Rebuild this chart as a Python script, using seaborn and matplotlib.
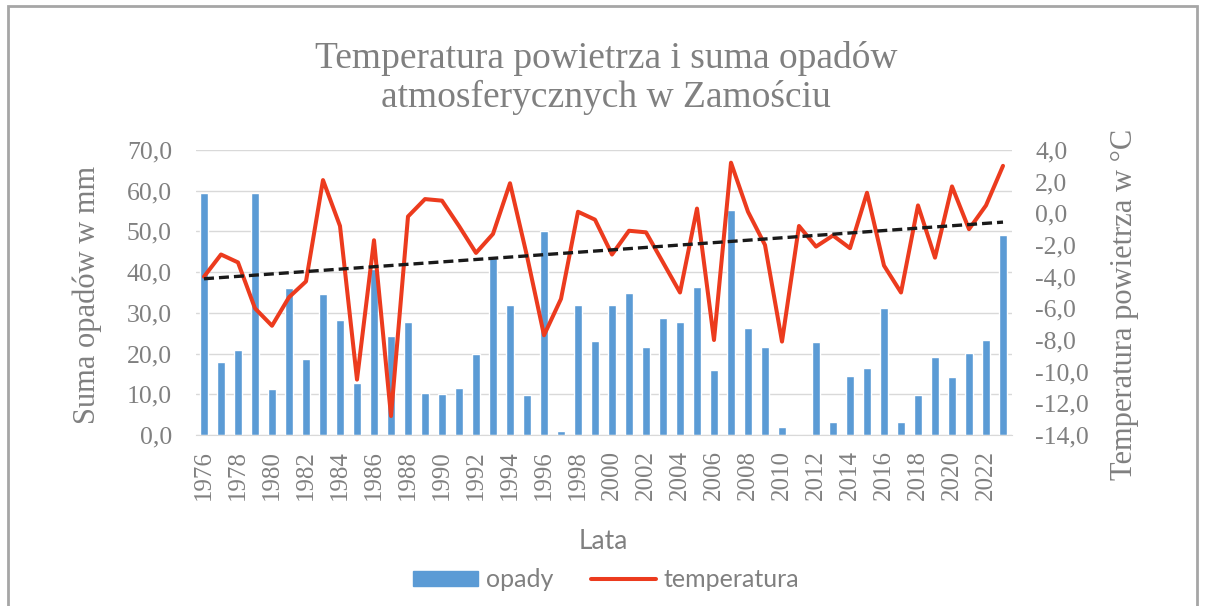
import numpy as np
import pandas as pd
import matplotlib
matplotlib.use("Agg")
import matplotlib.pyplot as plt
import seaborn as sns
from matplotlib.ticker import FuncFormatter
from matplotlib.patches import Rectangle
from matplotlib.lines import Line2D

# Dane
lata = list(range(1976, 2024))
opady = [59.4, 17.9, 20.9, 59.5, 11.2, 36.0, 18.6, 34.6, 28.3, 12.7,
         40.8, 24.3, 27.7, 10.2, 10.0, 11.5, 19.8, 43.4, 31.9, 9.8,
         50.1, 1.0, 31.9, 23.1, 31.9, 35.0, 21.7, 28.8, 27.7, 36.4,
         16.0, 55.3, 26.2, 21.5, 2.0, 0.0, 22.8, 3.3, 14.6, 16.4,
         31.1, 3.1, 9.8, 19.2, 14.3, 20.2, 23.3, 49.1]
temperatura = [-4.0, -2.6, -3.1, -6.0, -7.1, -5.3, -4.3, 2.1, -0.8, -10.5,
               -1.7, -12.8, -0.2, 0.9, 0.8, -0.8, -2.5, -1.3, 1.9, -2.7,
               -7.7, -5.4, 0.1, -0.4, -2.6, -1.1, -1.2, -3.1, -5.0, 0.3,
               -8.0, 3.2, 0.1, -2.0, -8.1, -0.8, -2.1, -1.4, -2.2, 1.3,
               -3.3, -5.0, 0.5, -2.8, 1.7, -1.0, 0.5, 3.0]

df = pd.DataFrame({"rok": [str(r) for r in lata], "opady": opady,
                   "temperatura": temperatura, "i": np.arange(len(lata))})

gray = "#808080"
blue = "#5b9bd5"
red = "#ec3b1e"
serif = ["Liberation Serif", "DejaVu Serif"]
sans = ["Lato", "Open Sans", "DejaVu Sans"]

sns.set_style("white")
fig = plt.figure(figsize=(12.12, 6.06), dpi=100)
ax = fig.add_axes([195.5 / 1212, 1 - 435 / 606, 816 / 1212, 285 / 606])

sns.barplot(data=df, x="rok", y="opady", color=blue, width=0.45,
            saturation=1, ax=ax, zorder=2)
ax.set_xlim(-0.5, len(lata) - 0.5)
ax.set_ylim(0, 70)
ax.set_yticks(np.arange(0, 71, 10))
ax.yaxis.grid(True, color="#d9d9d9", lw=1, zorder=0)
ax.set_axisbelow(True)
for s in ["top", "right", "left"]:
    ax.spines[s].set_visible(False)
ax.spines["bottom"].set_color("#d9d9d9")

fmt = FuncFormatter(lambda v, p: f"{v:.1f}".replace(".", ","))
ax.yaxis.set_major_formatter(fmt)
ax.set_xticks(np.arange(0, len(lata), 2))
ax.set_xticklabels([str(r) for r in lata[::2]], rotation=90)
ax.tick_params(axis="y", length=0, colors=gray, labelsize=18.5, pad=17)
ax.tick_params(axis="x", length=0, colors=gray, labelsize=18, pad=11)
for t in ax.get_xticklabels() + ax.get_yticklabels():
    t.set_family(serif)
ax.set_xlabel("Lata", family=sans, fontsize=19, color=gray)
ax.xaxis.set_label_coords(0.5, -0.33)
ax.set_ylabel("Suma opadów w mm", family=serif, fontsize=22, color=gray)
ax.yaxis.set_label_coords(-0.115, 0.49)

# temperatura na drugiej osi
ax2 = ax.twinx()
sns.lineplot(data=df, x="i", y="temperatura", color=red, lw=2.9, ax=ax2, zorder=3)
a, b = np.polyfit(df["i"], df["temperatura"], 1)
ax2.plot(df["i"], a * df["i"] + b, ls=(0, (3, 1.5)), color="#1a1a1a", lw=2.4, zorder=4)
ax2.set_ylim(-14, 4)
ax2.set_yticks(np.arange(-14, 4.1, 2))
ax2.yaxis.set_major_formatter(fmt)
ax2.tick_params(axis="y", length=0, colors=gray, labelsize=18.5, pad=17)
for t in ax2.get_yticklabels():
    t.set_family(serif)
ax2.set_ylabel("Temperatura powietrza w \u00b0C", family=serif, fontsize=22, color=gray)
ax2.yaxis.set_label_coords(1.121, 0.46)
for s in ["top", "right", "left", "bottom"]:
    ax2.spines[s].set_visible(False)
ax2.set_xlim(-0.5, len(lata) - 0.5)

fig.text(0.5, 0.871, "Temperatura powietrza i suma opadów\natmosferycznych w Zamościu",
         ha="center", va="center", family=serif, fontsize=27, color=gray,
         linespacing=1.12)

handles = [Rectangle((0, 0), 1, 1, color=blue), Line2D([0], [0], color=red, lw=2.9)]
fig.legend(handles, ["opady", "temperatura"], loc="center", bbox_to_anchor=(0.5, 0.043),
           ncol=2, frameon=False, prop={"family": sans, "size": 18},
           labelcolor=gray, handlelength=2.6, handleheight=0.55,
           handletextpad=0.3, columnspacing=1.5)

fig.add_artist(Rectangle((8 / 1212, -0.01), 1189 / 1212, 1.0, transform=fig.transFigure,
                         fill=False, edgecolor="#a6a6a6", lw=2))

fig.savefig("out.png", dpi=100)
